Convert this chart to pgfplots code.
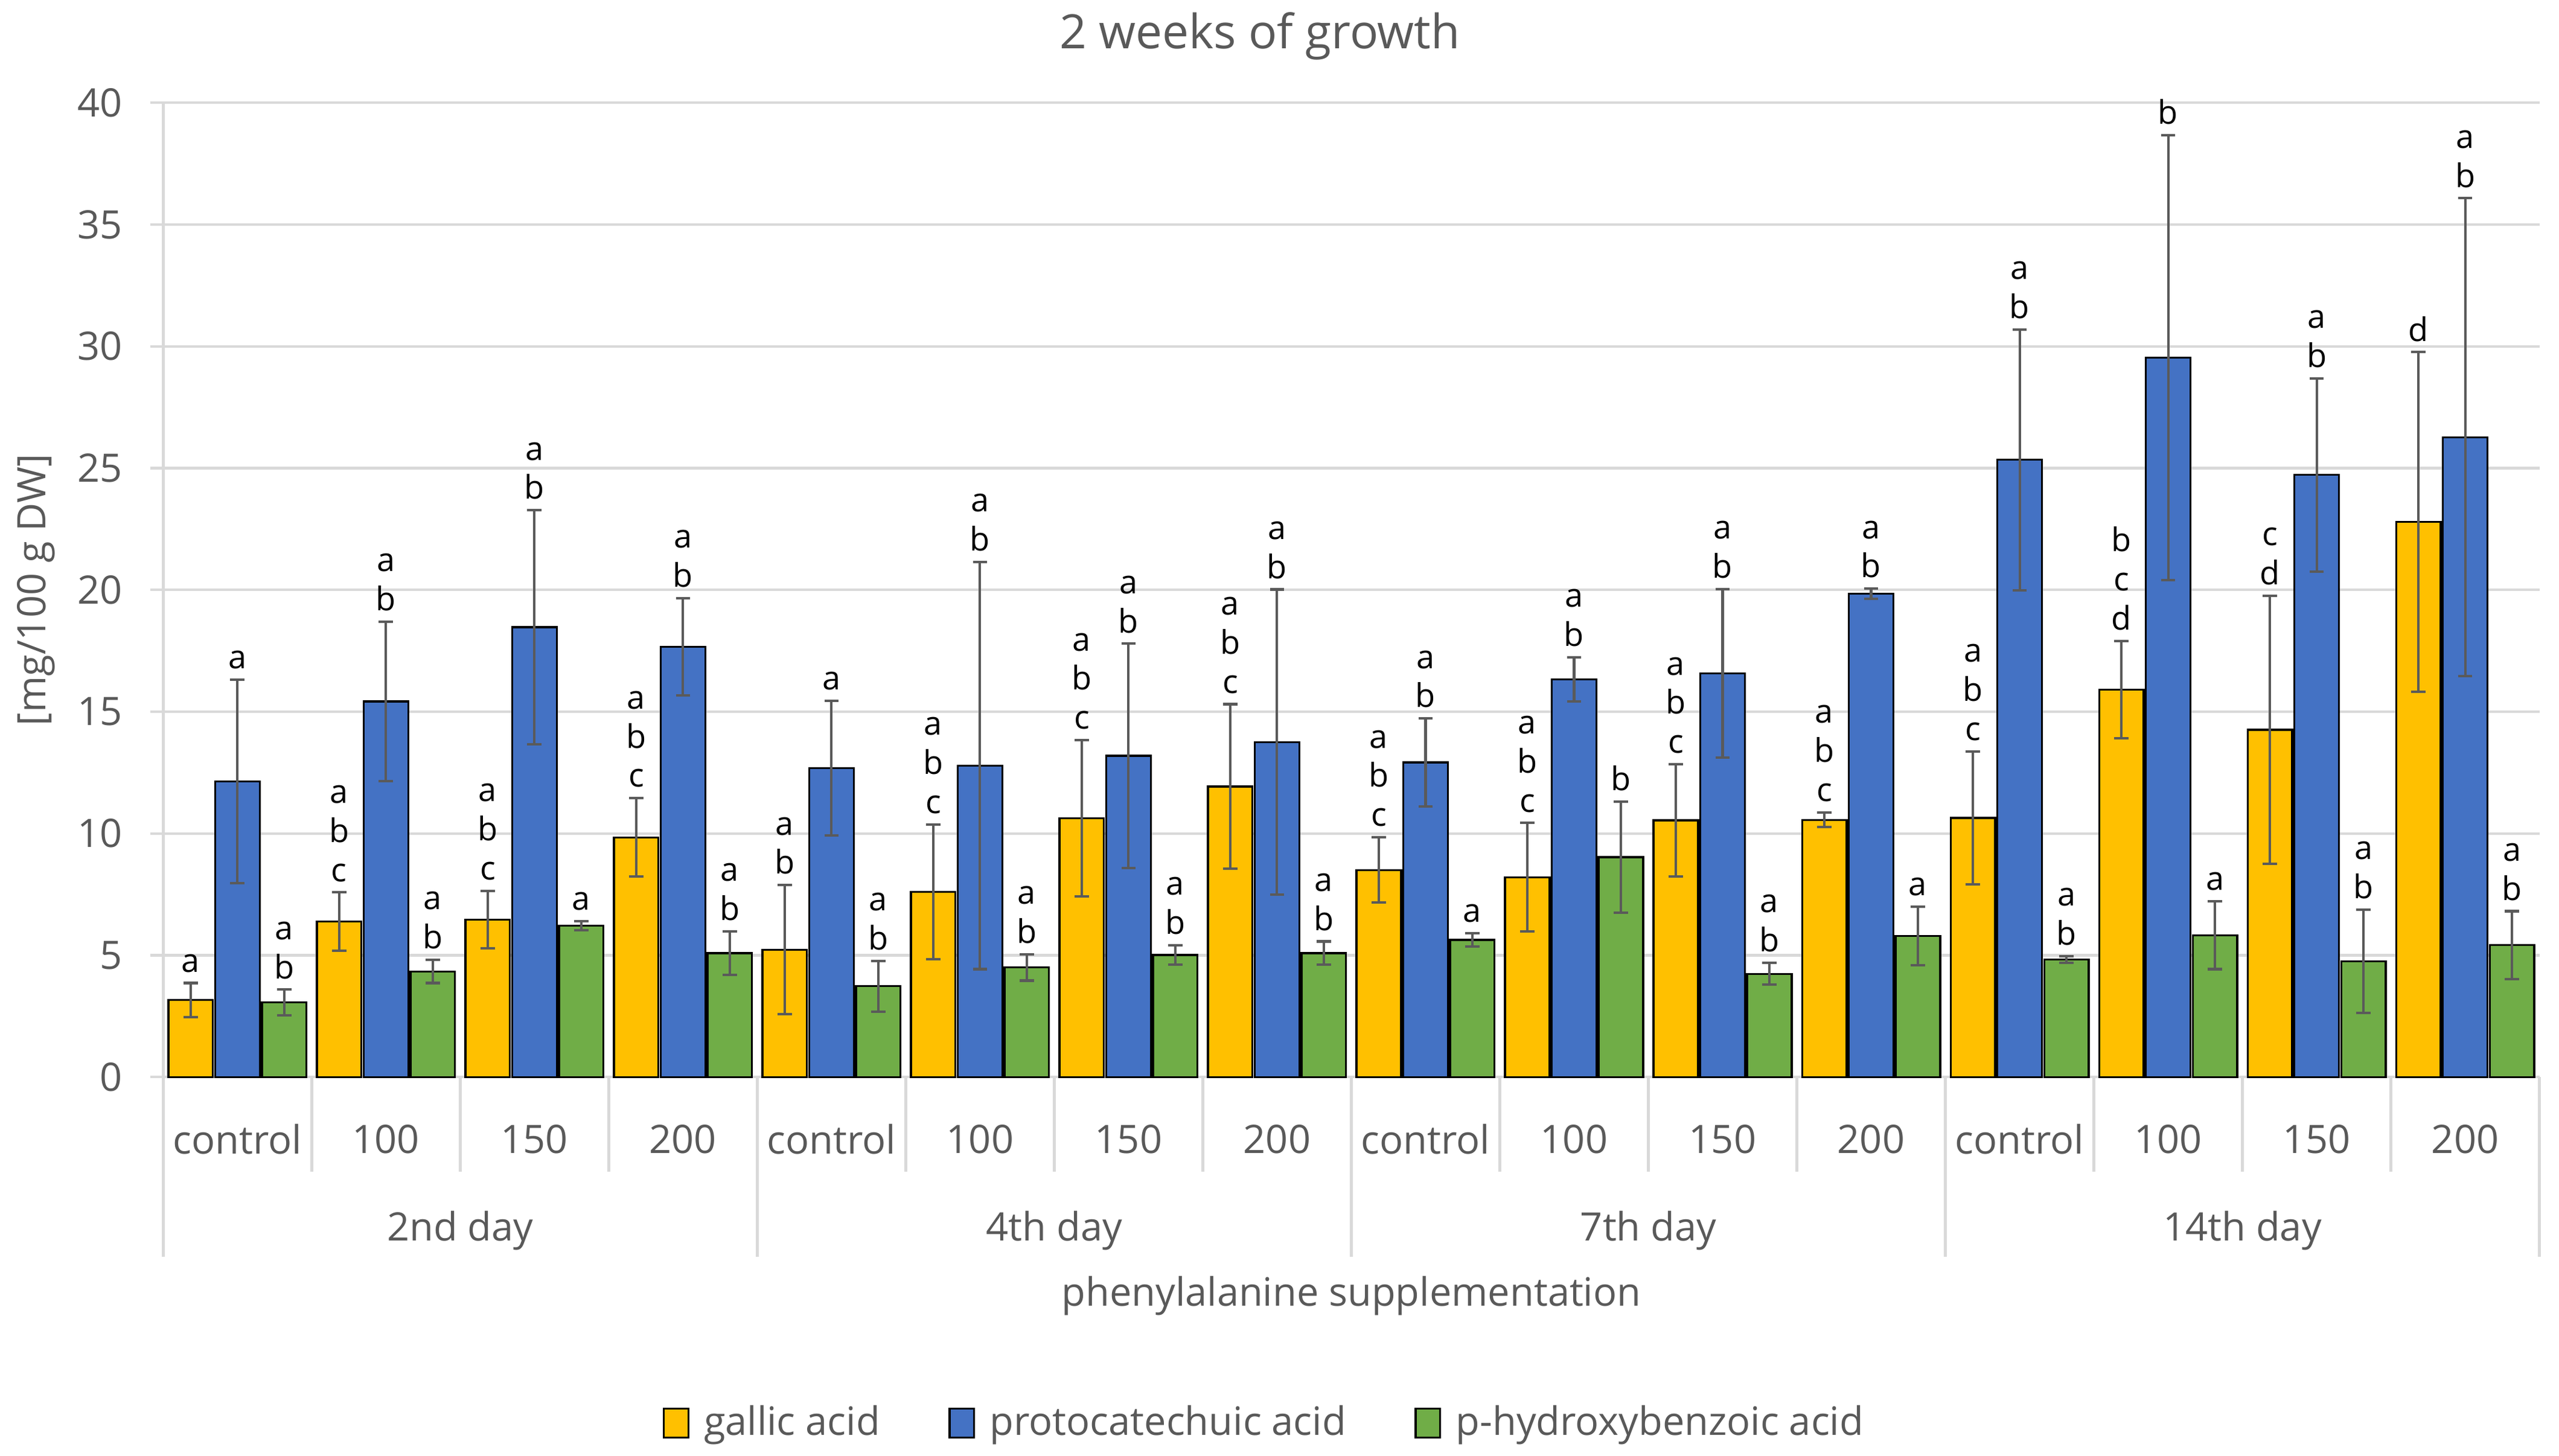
\documentclass[border=0pt]{standalone}
\usepackage{fontspec}
\setmainfont{Open Sans}
\usepackage{pgfplots}
\usepackage{pgfplotstable}
\pgfplotsset{compat=1.18}

\definecolor{gal}{HTML}{FFC000}
\definecolor{pro}{HTML}{4472C4}
\definecolor{phb}{HTML}{70AD47}
\definecolor{txt}{HTML}{595959}
\definecolor{grd}{HTML}{D9D9D9}
\definecolor{errc}{HTML}{5A5A5A}

% letters of a label, one per line
\makeatletter
\def\stk#1{\edef\stk@tmp{#1}\vbox{\baselineskip=12pt\expandafter\stk@a\stk@tmp\@nil}}
\def\stk@a#1#2\@nil{\hbox to 1em{\hss#1\hss}\ifx\relax#2\relax\else\stk@a#2\@nil\fi}
\makeatother

% x = category, y = mean, err = sd, lab = letters
\pgfplotstableread{
x y err lab
0 3.16 0.70 a
1 6.38 1.20 abc
2 6.46 1.18 abc
3 9.84 1.61 abc
4 5.23 2.65 ab
5 7.61 2.76 abc
6 10.62 3.21 abc
7 11.93 3.38 abc
8 8.50 1.34 abc
9 8.20 2.23 abc
10 10.54 2.30 abc
11 10.56 0.30 abc
12 10.64 2.73 abc
13 15.90 2.00 bcd
14 14.26 5.50 cd
15 22.79 6.97 d
}\galtab

\pgfplotstableread{
x y err lab
0 12.14 4.17 a
1 15.42 3.27 ab
2 18.47 4.80 ab
3 17.67 2.00 ab
4 12.68 2.76 a
5 12.79 8.36 ab
6 13.19 4.60 ab
7 13.75 6.27 ab
8 12.92 1.80 ab
9 16.33 0.91 ab
10 16.57 3.46 ab
11 19.84 0.21 ab
12 25.34 5.36 ab
13 29.54 9.14 b
14 24.72 3.97 ab
15 26.27 9.81 ab
}\protab

\pgfplotstableread{
x y err lab
0 3.06 0.53 ab
1 4.34 0.48 ab
2 6.22 0.19 a
3 5.09 0.89 ab
4 3.73 1.04 ab
5 4.50 0.54 ab
6 5.01 0.40 ab
7 5.09 0.48 ab
8 5.63 0.27 a
9 9.03 2.28 b
10 4.24 0.45 ab
11 5.79 1.21 a
12 4.83 0.13 ab
13 5.82 1.39 a
14 4.75 2.12 ab
15 5.42 1.39 ab
}\phbtab

\pgfplotsset{
  mybar/.style={
    ybar, bar width=0.30, bar shift=0pt, draw=black, line width=0.6pt,
    legend image code/.code={\draw[##1] (0pt,-4.4pt) rectangle (7.5pt,4.4pt);},
    error bars/.cd, y dir=both, y explicit,
    error bar style={errc, line width=0.75pt},
    error mark options={rotate=90, mark size=2.2pt, errc, line width=0.75pt},
    /pgfplots/.cd,
    point meta=explicit symbolic,
    visualization depends on={\thisrow{err}\as\errv},
    nodes near coords={\stk{\pgfplotspointmeta}},
    every node near coord/.append style={anchor=south, inner sep=1pt,
      text=black, font=\fontsize{10}{12}\selectfont,
      shift={(axis direction cs:0,\errv)}, yshift=2pt},
  },
}

\begin{document}
\begin{tikzpicture}
\begin{axis}[
  scale only axis, width=728pt, height=298.5pt,
  clip=false,
  xmin=-0.5, xmax=15.5, ymin=0, ymax=40,
  ytick={0,5,...,40},
  xtick={0,...,15},
  xticklabels={control,100,150,200,control,100,150,200,control,100,150,200,control,100,150,200},
  axis y line*=left, axis x line*=bottom,
  axis line style={grd, line width=0.8pt},
  ymajorgrids, grid style={grd, line width=0.8pt},
  xtick style={draw=none},
  ytick style={grd, line width=0.8pt},
  tick align=outside, major tick length=4pt,
  ticklabel style={font=\fontsize{12}{14}\selectfont, text=txt},
  /pgf/number format/assume math mode=true,
  xticklabel style={anchor=center, yshift=-15pt},
  yticklabel style={xshift=-5pt},
  title={2 weeks of growth},
  every axis title/.style={at={(rel axis cs:0.4615,1)}, anchor=center,
    yshift=20.5pt, font=\fontsize{14.5}{17}\selectfont, text=txt},
  ylabel={[mg/100 g DW]},
  every axis y label/.style={at={(rel axis cs:0,0.5)}, rotate=90, anchor=center,
    yshift=39pt, font=\fontsize{12}{14}\selectfont, text=txt},
  xlabel={phenylalanine supplementation},
  every axis x label/.style={at={(rel axis cs:0.5,0)}, anchor=center,
    yshift=-67pt, font=\fontsize{12}{14}\selectfont, text=txt},
  legend style={at={(0.4643,0)}, anchor=center, yshift=-106pt, draw=none,
    fill=none, legend columns=-1, font=\fontsize{12}{14}\selectfont, text=txt,
    /tikz/every odd column/.append style={column sep=2.5pt},
    /tikz/every even column/.append style={column sep=19pt}},
  legend cell align=left,
]
\addplot[mybar, fill=gal] table[x expr=\thisrow{x}-0.315, y=y, y error=err, meta=lab] \galtab;
\addlegendentry{gallic acid}
\addplot[mybar, fill=pro] table[x=x, y=y, y error=err, meta=lab] \protab;
\addlegendentry{protocatechuic acid}
\addplot[mybar, fill=phb] table[x expr=\thisrow{x}+0.315, y=y, y error=err, meta=lab] \phbtab;
\addlegendentry{p-hydroxybenzoic acid}

% category separators
\pgfplotsinvokeforeach{0.5,1.5,2.5,4.5,5.5,6.5,8.5,9.5,10.5,12.5,13.5,14.5}{
  \draw[grd, line width=0.8pt] (axis cs:#1,0) -- ++(0pt,-29pt);}
\pgfplotsinvokeforeach{-0.5,3.5,7.5,11.5,15.5}{
  \draw[grd, line width=0.8pt] (axis cs:#1,0) -- ++(0pt,-55pt);}
% day labels
\node[font=\fontsize{12}{14}\selectfont, text=txt, yshift=-47pt] at (axis cs:1.5,0) {2nd day};
\node[font=\fontsize{12}{14}\selectfont, text=txt, yshift=-47pt] at (axis cs:5.5,0) {4th day};
\node[font=\fontsize{12}{14}\selectfont, text=txt, yshift=-47pt] at (axis cs:9.5,0) {7th day};
\node[font=\fontsize{12}{14}\selectfont, text=txt, yshift=-47pt] at (axis cs:13.5,0) {14th day};
% picture frame
\path ([xshift=-50pt,yshift=-116pt]rel axis cs:0,0) rectangle ([xshift=6pt,yshift=31.5pt]rel axis cs:1,1);
\end{axis}
\end{tikzpicture}
\end{document}
